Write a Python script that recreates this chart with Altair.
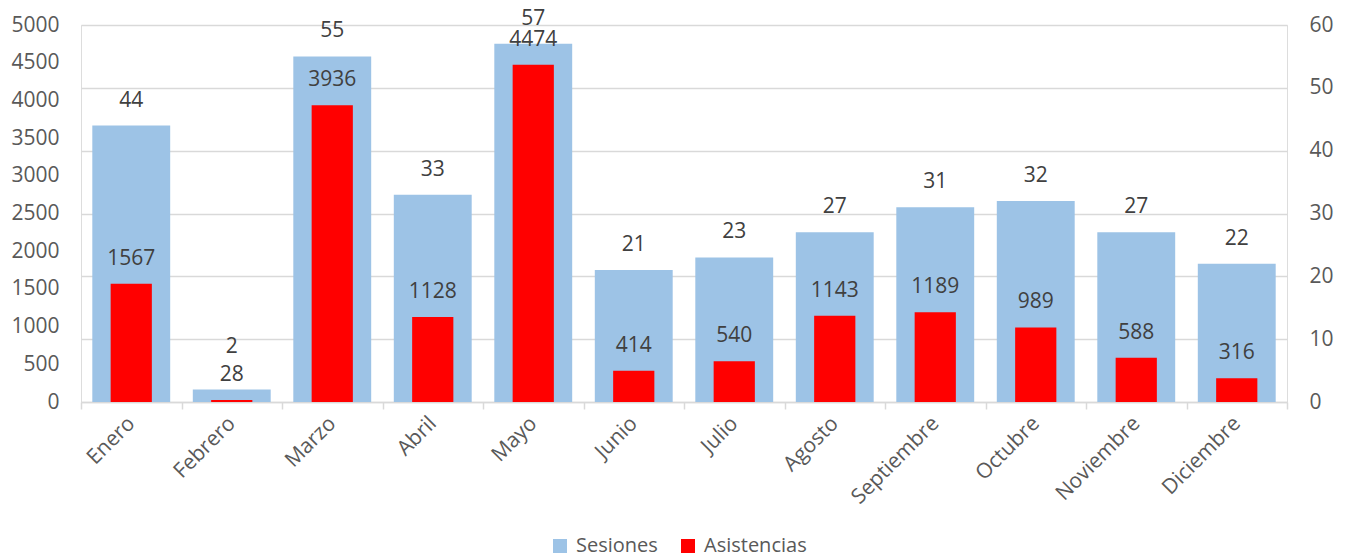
import altair as alt
import pandas as pd

months = ["Enero", "Febrero", "Marzo", "Abril", "Mayo", "Junio", "Julio",
          "Agosto", "Septiembre", "Octubre", "Noviembre", "Diciembre"]
sesiones = [44, 2, 55, 33, 57, 21, 23, 27, 31, 32, 27, 22]
asistencias = [1567, 28, 3936, 1128, 4474, 414, 540, 1143, 1189, 989, 588, 316]
series_names = ["Sesiones", "Asistencias"]
series_colors = ["#9DC3E6", "#FF0000"]
left_ticks = list(range(0, 5001, 500))
right_ticks = list(range(0, 61, 10))

df = pd.DataFrame({"Mes": months, "Sesiones": sesiones, "Asistencias": asistencias})

FONT = "Open Sans"
LABEL = "#595959"
TEXT = "#404040"
GRID = "#d9d9d9"

color_scale = alt.Scale(domain=series_names, range=series_colors)
legend = alt.Legend(
    title=None, orient="none", legendX=469, legendY=511, direction="horizontal",
    symbolType="square", symbolSize=196, symbolStrokeWidth=0,
    labelFontSize=20, labelFont=FONT, labelColor=LABEL,
    columnPadding=20, labelOffset=6,
)

x = alt.X(
    "Mes:N", sort=months,
    scale=alt.Scale(paddingInner=0, paddingOuter=0),
    axis=alt.Axis(
        title=None, labelAngle=-45, labelAlign="right", labelBaseline="middle",
        labelFontSize=21, labelFont=FONT, labelColor=LABEL, labelPadding=11,
        domainColor=GRID, domainWidth=1.5, tickColor=GRID, tickWidth=1.5, tickSize=7,
        tickBand="extent",
    ),
)

y_right = alt.Y(
    "Sesiones:Q",
    scale=alt.Scale(domain=[0, 60], nice=False),
    axis=alt.Axis(
        orient="right", title=None, values=right_ticks, grid=True, gridColor=GRID,
        gridWidth=1.5, domain=False, ticks=False, labelPadding=22, format="d",
        labelFontSize=21, labelFont=FONT, labelColor=LABEL,
    ),
)
y_left = alt.Y(
    "Asistencias:Q",
    scale=alt.Scale(domain=[0, 5000], nice=False),
    axis=alt.Axis(
        orient="left", title=None, values=left_ticks, grid=False, domain=False,
        ticks=False, labelPadding=22, format="d", labelFontSize=21, labelFont=FONT,
        labelColor=LABEL,
    ),
)

base = alt.Chart(df)
color = alt.Color("Serie:N", scale=color_scale, legend=legend)

blue_bars = base.transform_calculate(Serie="'Sesiones'").mark_bar(
    width=alt.RelativeBandSize(0.775)
).encode(x=x, y=y_right, color=color)
blue_text = base.transform_filter(
    "abs(datum.Sesiones * 5000 / 60 - datum.Asistencias) >= 200"
).mark_text(dy=-25, fontSize=21, font=FONT, color=TEXT, baseline="middle").encode(
    x=x, y=y_right, text="Sesiones:Q"
)
blue_text_shift = base.transform_filter(
    "abs(datum.Sesiones * 5000 / 60 - datum.Asistencias) < 200"
).mark_text(dy=-42, fontSize=21, font=FONT, color=TEXT, baseline="middle").encode(
    x=x, y=y_right, text="Sesiones:Q"
)

red_bars = base.transform_calculate(Serie="'Asistencias'").mark_bar(
    width=alt.RelativeBandSize(0.41)
).encode(x=x, y=y_left, color=color)
red_text = base.mark_text(dy=-25, fontSize=21, font=FONT, color=TEXT, baseline="middle").encode(
    x=x, y=y_left, text="Asistencias:Q"
)

chart = alt.layer(
    alt.layer(blue_bars, blue_text, blue_text_shift),
    alt.layer(red_bars, red_text),
).resolve_scale(y="independent").properties(
    width=1206, height=377,
    autosize=alt.AutoSizeParams(type="none"),
    padding={"left": 73, "top": 17, "right": 53, "bottom": 154},
).configure_view(stroke=None).configure(background="white")

chart.save("out.html", embed_options={"renderer": "svg", "actions": False})
